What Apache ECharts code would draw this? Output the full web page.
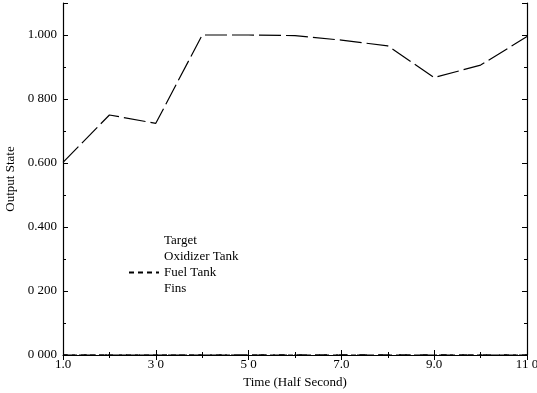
<!DOCTYPE html>
<html>
<head>
<meta charset="utf-8">
<script src="https://cdn.jsdelivr.net/npm/echarts@6/dist/echarts.min.js"></script>
<style>html,body{margin:0;padding:0;background:#fff}#c{width:537px;height:393px}</style>
</head>
<body>
<div id="c"></div>
<script>
var times = [1, 2, 3, 4, 5, 6, 7, 8, 9, 10, 11];
var target = [0.602, 0.750, 0.724, 1.000, 1.000, 0.998, 0.984, 0.966, 0.867, 0.906, 0.995];
var oxidizer = [0, 0, 0, 0, 0, 0, 0, 0, 0, 0, 0];
var fuel = [0, 0, 0, 0, 0, 0, 0, 0, 0, 0, 0];
var fins = [0, 0, 0, 0, 0, 0, 0, 0, 0, 0, 0];
var xTickValues = [1, 3, 5, 7, 9, 11];
var xTickLabels = ["1.0", "3 0", "5 0", "7.0", "9.0", "11 0"];
var yTickValues = [0, 0.2, 0.4, 0.6, 0.8, 1.0];
var yTickLabels = ["0 000", "0 200", "0.400", "0.600", "0 800", "1.000"];

function pairs(ys) { return times.map(function (t, i) { return [t, ys[i]]; }); }
function lookup(vals, labels) {
  return function (v) {
    for (var i = 0; i < vals.length; i++) if (Math.abs(vals[i] - v) < 1e-6) return labels[i];
    return '';
  };
}
var font = 'Liberation Serif';
var chart = echarts.init(document.getElementById('c'));
var tick = { show: true, inside: true, length: 5, lineStyle: { color: '#000', width: 1 } };
var minor = { show: true, splitNumber: 2, length: 3, lineStyle: { color: '#000', width: 1 } };
var hidden = { lineStyle: { opacity: 0 }, itemStyle: { opacity: 0 } };
chart.setOption({
  animation: false,
  backgroundColor: '#fff',
  grid: { left: 63, right: 10, top: 3, bottom: 38, containLabel: false, outerBoundsMode: 'none' },
  legend: {
    orient: 'vertical', left: 123, top: 229, itemWidth: 30, itemHeight: 10, itemGap: 3,
    textStyle: { fontFamily: font, fontSize: 13, color: '#000' },
    data: [
      Object.assign({ name: 'Target' }, hidden),
      Object.assign({ name: 'Oxidizer Tank' }, hidden),
      { name: 'Fuel Tank', itemStyle: { opacity: 0 } },
      Object.assign({ name: 'Fins' }, hidden)
    ]
  },
  xAxis: [{
    type: 'value', min: 1, max: 11, interval: 2,
    name: 'Time (Half Second)', nameLocation: 'middle', nameGap: 21,
    nameTextStyle: { fontFamily: font, fontSize: 13, color: '#000' },
    axisLine: { show: false },
    axisTick: tick, minorTick: minor, splitLine: { show: false },
    axisLabel: { fontFamily: font, fontSize: 13, color: '#000', margin: 3, formatter: lookup(xTickValues, xTickLabels) }
  }, {
    type: 'value', min: 1, max: 11, interval: 2, position: 'top',
    axisLine: { show: true, lineStyle: { color: '#000', width: 1.2 } },
    axisTick: tick, minorTick: minor, splitLine: { show: false }, axisLabel: { show: false }
  }],
  yAxis: [{
    type: 'value', min: 0, max: 1.1, interval: 0.2,
    name: 'Output State', nameLocation: 'middle', nameGap: 45,
    nameTextStyle: { fontFamily: font, fontSize: 13, color: '#000' },
    axisLine: { show: true, lineStyle: { color: '#000', width: 1.2 } },
    axisTick: tick, minorTick: minor, splitLine: { show: false },
    axisLabel: { fontFamily: font, fontSize: 13, color: '#000', margin: 6, formatter: lookup(yTickValues, yTickLabels) }
  }, {
    type: 'value', min: 0, max: 1.1, interval: 0.2, position: 'right',
    axisLine: { show: true, lineStyle: { color: '#000', width: 1.2 } },
    axisTick: tick, minorTick: minor, splitLine: { show: false }, axisLabel: { show: false }
  }],
  series: [
    { name: 'Target', type: 'line', data: pairs(target), symbol: 'none', showSymbol: false, color: '#000',
      lineStyle: { color: '#000', width: 1.2, type: [22, 5] } },
    { name: 'Oxidizer Tank', type: 'line', data: pairs(oxidizer), symbol: 'none', showSymbol: false, color: '#000',
      lineStyle: { color: '#000', width: 1.2, type: [12, 9] } },
    { name: 'Fuel Tank', type: 'line', data: pairs(fuel), symbol: 'none', showSymbol: false, color: '#000',
      lineStyle: { color: '#000', width: 1.2, type: [5, 4] } },
    { name: 'Fins', type: 'line', data: pairs(fins), symbol: 'none', showSymbol: false, color: '#000',
      lineStyle: { color: '#000', width: 1.2, type: [8, 12], dashOffset: 4 } }
  ]
});
</script>
</body>
</html>
